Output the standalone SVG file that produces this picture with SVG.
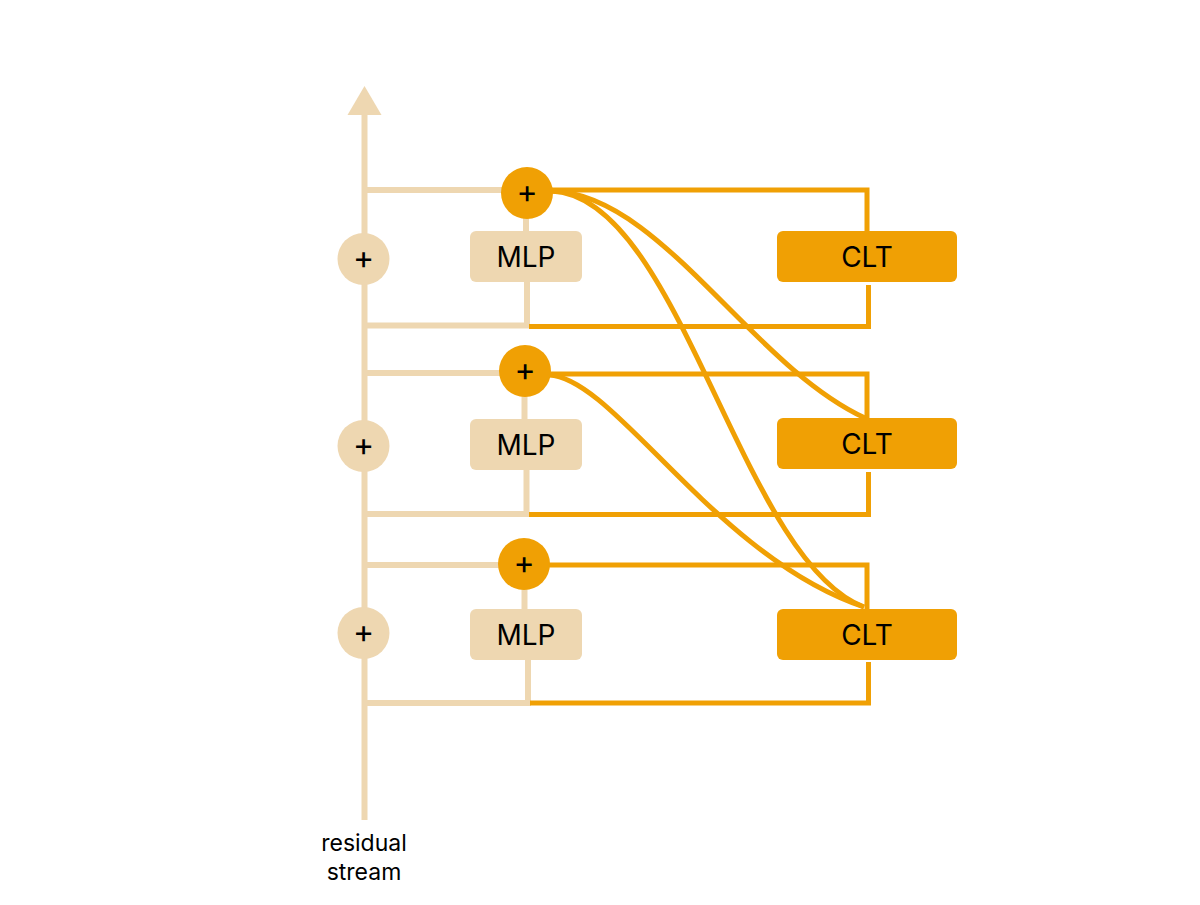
<svg xmlns="http://www.w3.org/2000/svg" width="1200" height="905" viewBox="0 0 1200 905">
  <style>
    .beige { stroke: #EED7B1; stroke-width: 6; fill: none; }
    .orange { stroke: #F0A004; stroke-width: 5; fill: none; }
    .bfill { fill: #EED7B1; }
    .ofill { fill: #F0A004; }
    .lbl { font-family: Inter, "Liberation Sans", sans-serif; font-size: 28px; fill: #000; text-anchor: middle; dominant-baseline: central; }
    .plus { font-family: Inter, "Liberation Sans", sans-serif; font-size: 32px; fill: #000; text-anchor: middle; dominant-baseline: central; }
    .cap { font-family: Inter, "Liberation Sans", sans-serif; font-size: 23px; fill: #000; text-anchor: middle; }
  </style>
  <rect width="1200" height="905" fill="#ffffff"/>
  <g id="connectors">
    <!-- residual stream -->
    <line class="beige" x1="364.5" y1="820" x2="364.5" y2="112"/>
    <polygon class="bfill" points="364.5,86 347.5,115 381.5,115"/>
    <!-- row 1 -->
    <line class="beige" x1="364" y1="190" x2="526" y2="190"/>
    <line class="beige" x1="526" y1="215" x2="526" y2="232"/>
    <polyline class="beige" points="527,281 527,325.5 364,325.5"/>
    <polyline class="orange" points="550,190 867,190 867,232"/>
    <polyline class="orange" points="529,326.5 868.5,326.5 868.5,285"/>
    <!-- row 2 -->
    <line class="beige" x1="364" y1="373" x2="524" y2="373"/>
    <line class="beige" x1="524.5" y1="395" x2="524.5" y2="420"/>
    <polyline class="beige" points="526.5,469 526.5,514 364,514"/>
    <polyline class="orange" points="548,374 867,374 867,419"/>
    <polyline class="orange" points="529,514.5 868.5,514.5 868.5,472"/>
    <!-- row 3 -->
    <line class="beige" x1="364" y1="565" x2="524" y2="565"/>
    <line class="beige" x1="524.5" y1="588" x2="524.5" y2="610"/>
    <polyline class="beige" points="528,659 528,703 364,703"/>
    <polyline class="orange" points="548,565 867,565 867,609"/>
    <polyline class="orange" points="530,703 868.5,703 868.5,662"/>
    <!-- cross-layer curves -->
    <path class="orange" d="M551,191 C660,193 750,365 865,418"/>
    <path class="orange" d="M551,191 C680,195 740,560 864,607"/>
    <path class="orange" d="M549,375 C615,378 715,557 864,607"/>
  </g>
  <g id="add-out-1"><circle class="ofill" cx="527" cy="193" r="26"/><text class="plus" x="527" y="191">+</text></g>
  <g id="add-out-2"><circle class="ofill" cx="525" cy="371" r="26"/><text class="plus" x="525" y="369">+</text></g>
  <g id="add-out-3"><circle class="ofill" cx="524" cy="564" r="26"/><text class="plus" x="524" y="562">+</text></g>
  <g id="add-res-1"><circle class="bfill" cx="363.5" cy="259" r="26"/><text class="plus" x="363.5" y="257">+</text></g>
  <g id="add-res-2"><circle class="bfill" cx="363.5" cy="446" r="26"/><text class="plus" x="363.5" y="444">+</text></g>
  <g id="add-res-3"><circle class="bfill" cx="363.5" cy="633" r="26"/><text class="plus" x="363.5" y="631">+</text></g>
  <g id="mlp-1"><rect class="bfill" x="470" y="231" width="112" height="51" rx="6"/><text class="lbl" x="526" y="257">MLP</text></g>
  <g id="mlp-2"><rect class="bfill" x="470" y="419" width="112" height="51" rx="6"/><text class="lbl" x="526" y="445">MLP</text></g>
  <g id="mlp-3"><rect class="bfill" x="470" y="609" width="112" height="51" rx="6"/><text class="lbl" x="526" y="635">MLP</text></g>
  <g id="clt-1"><rect class="ofill" x="777" y="231" width="180" height="51" rx="6"/><text class="lbl" x="867" y="257">CLT</text></g>
  <g id="clt-2"><rect class="ofill" x="777" y="418" width="180" height="51" rx="6"/><text class="lbl" x="867" y="444">CLT</text></g>
  <g id="clt-3"><rect class="ofill" x="777" y="609" width="180" height="51" rx="6"/><text class="lbl" x="867" y="635">CLT</text></g>
  <g id="caption">
    <text class="cap" x="364" y="851">residual</text>
    <text class="cap" x="364" y="880">stream</text>
  </g>
</svg>
